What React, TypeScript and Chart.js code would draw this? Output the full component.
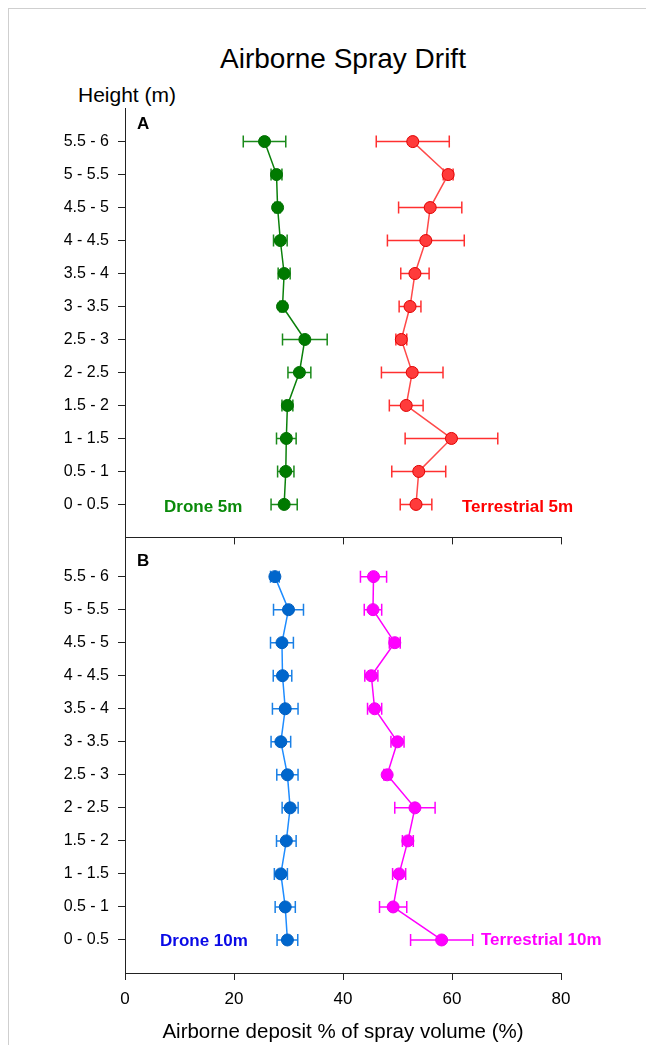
import React, { useEffect, useRef } from "react";
import { Chart, registerables } from "chart.js";

Chart.register(...registerables);

// ---------- data ----------
const heightLabels = [
  "0 - 0.5", "0.5 - 1", "1 - 1.5", "1.5 - 2", "2 - 2.5", "2.5 - 3",
  "3 - 3.5", "3.5 - 4", "4 - 4.5", "4.5 - 5", "5 - 5.5", "5.5 - 6",
];
const xTicks = [0, 20, 40, 60, 80];

const drone5 = [29.2, 29.5, 29.6, 29.8, 32.0, 33.0, 28.9, 29.2, 28.5, 28.0, 27.8, 25.6];
const drone5Err = [2.4, 1.5, 1.8, 1.0, 2.1, 4.1, 0.5, 1.1, 1.25, 0.5, 1.0, 3.9];
const terr5 = [53.4, 53.9, 59.9, 51.6, 52.7, 50.7, 52.3, 53.2, 55.2, 56.0, 59.3, 52.8];
const terr5Err = [2.9, 4.95, 8.5, 3.1, 5.65, 1.0, 2.0, 2.6, 7.05, 5.8, 0.9, 6.7];

const drone10 = [29.8, 29.4, 28.6, 29.6, 30.3, 29.8, 28.6, 29.4, 28.9, 28.8, 30.0, 27.5];
const drone10Err = [1.9, 1.85, 1.2, 1.8, 1.47, 1.95, 1.8, 2.35, 1.7, 2.1, 2.75, 0.8];
const terr10 = [58.1, 49.2, 50.3, 51.9, 53.2, 48.1, 50.0, 45.8, 45.2, 49.5, 45.5, 45.6];
const terr10Err = [5.7, 2.5, 1.2, 1.0, 3.7, 0.6, 1.2, 1.3, 1.2, 1.0, 1.6, 2.4];

const FONT = "'Liberation Sans', Arial, Helvetica, sans-serif";

const toPoints = (vals: number[]) => vals.map((v, i) => ({ x: v, y: i }));

const errorBarPlugin = {
  id: "errorBars",
  beforeDatasetsDraw(chart: any) {
    const ctx = chart.ctx;
    const xs = chart.scales.x;
    const ys = chart.scales.y;
    chart.data.datasets.forEach((ds: any, di: number) => {
      if (!chart.isDatasetVisible(di) || !ds.errors) return;
      ctx.save();
      ctx.strokeStyle = ds.errorColor || ds.borderColor;
      ctx.lineWidth = 1.5;
      ds.data.forEach((p: any, i: number) => {
        const e = ds.errors[i];
        const x1 = xs.getPixelForValue(p.x - e);
        const x2 = xs.getPixelForValue(p.x + e);
        const y = ys.getPixelForValue(p.y);
        ctx.beginPath();
        ctx.moveTo(x1, y);
        ctx.lineTo(x2, y);
        ctx.moveTo(x1, y - 6);
        ctx.lineTo(x1, y + 6);
        ctx.moveTo(x2, y - 6);
        ctx.lineTo(x2, y + 6);
        ctx.stroke();
      });
      ctx.restore();
    });
  },
};

function makeDataset(vals: number[], errs: number[], line: string, fill: string, border: string, err: string) {
  return {
    data: toPoints(vals),
    errors: errs,
    errorColor: err,
    showLine: true,
    borderColor: line,
    borderWidth: 1.5,
    pointRadius: 6,
    pointHoverRadius: 6,
    pointBackgroundColor: fill,
    pointBorderColor: border,
    pointBorderWidth: 1,
  };
}

function makeOptions(showXLabels: boolean, padTop: number, padBottom: number) {
  return {
    animation: false as const,
    responsive: false,
    maintainAspectRatio: false,
    layout: { padding: { left: 0, right: 85, top: padTop, bottom: padBottom } },
    plugins: { legend: { display: false }, tooltip: { enabled: false }, title: { display: false } },
    scales: {
      x: {
        type: "linear" as const,
        min: 0,
        max: 80,
        afterBuildTicks: (s: any) => {
          s.ticks = xTicks.map((v) => ({ value: v }));
        },
        afterFit: (s: any) => {
          s.height = showXLabels ? 40 : 7;
        },
        border: { display: true, color: "#222", width: 1 },
        grid: { display: true, drawOnChartArea: false, drawTicks: true, tickLength: 7, color: "#222", lineWidth: 1 },
        ticks: {
          display: showXLabels,
          padding: 9,
          color: "#000",
          font: { family: FONT, size: 17 },
          maxRotation: 0,
        },
      },
      y: {
        type: "linear" as const,
        min: -1,
        max: 12,
        afterBuildTicks: (s: any) => {
          s.ticks = heightLabels.map((_, i) => ({ value: i }));
        },
        afterFit: (s: any) => {
          s.width = 125;
        },
        border: { display: true, color: "#222", width: 1 },
        grid: { display: true, drawOnChartArea: false, drawTicks: true, tickLength: 7, color: "#222", lineWidth: 1 },
        ticks: {
          autoSkip: false,
          padding: 9,
          color: "#000",
          font: { family: FONT, size: 16 },
          callback: (v: any) => heightLabels[v] ?? "",
        },
      },
    },
  };
}

const abs = (l: number, t: number, extra: React.CSSProperties = {}): React.CSSProperties => ({
  position: "absolute",
  left: l,
  top: t,
  fontFamily: FONT,
  whiteSpace: "nowrap",
  ...extra,
});

export default function App() {
  const refA = useRef<HTMLCanvasElement>(null);
  const refB = useRef<HTMLCanvasElement>(null);

  useEffect(() => {
    const chartA = new Chart(refA.current!, {
      type: "scatter",
      data: {
        datasets: [
          makeDataset(drone5, drone5Err, "#0a800a", "#007a00", "#007000", "#1a8a1a"),
          makeDataset(terr5, terr5Err, "#ff4a4a", "#ff3b3b", "#e00000", "#ff3030"),
        ] as any,
      },
      options: makeOptions(false, 15, 10) as any,
      plugins: [errorBarPlugin],
    });
    const chartB = new Chart(refB.current!, {
      type: "scatter",
      data: {
        datasets: [
          makeDataset(drone10, drone10Err, "#1e8cff", "#0066cc", "#005fc0", "#1a80e6"),
          makeDataset(terr10, terr10Err, "#ff00ff", "#ff00ff", "#f000f0", "#ff00ff"),
        ] as any,
      },
      options: makeOptions(true, 14, 12) as any,
      plugins: [errorBarPlugin],
    });
    return () => {
      chartA.destroy();
      chartB.destroy();
    };
  }, []);

  const lbl = (color: string): React.CSSProperties => ({
    fontWeight: "bold",
    fontSize: 17,
    lineHeight: "20px",
    color,
  });

  return (
    <div style={{ position: "absolute", left: 0, top: 0, width: 646, height: 1045, overflow: "hidden", background: "#fff" }}>
      <div
        style={{
          position: "absolute",
          left: 8,
          top: 8,
          width: 800,
          height: 1200,
          borderLeft: "1px solid #cfcfcf",
          borderTop: "1px solid #cfcfcf",
        }}
      />
      <div style={abs(43, 43, { width: 600, textAlign: "center", fontSize: 28, lineHeight: "32px", color: "#000" })}>
        Airborne Spray Drift
      </div>
      <div style={abs(0, 83, { width: 176, textAlign: "right", fontSize: 21, lineHeight: "24px", color: "#000" })}>
        Height (m)
      </div>
      <canvas ref={refA} width={646} height={466} style={{ position: "absolute", left: 0, top: 90, width: 646, height: 466 }} />
      <canvas ref={refB} width={646} height={500} style={{ position: "absolute", left: 0, top: 525, width: 646, height: 500 }} />
      <div style={abs(137, 114, { ...lbl("#000") })}>A</div>
      <div style={abs(137, 551, { ...lbl("#000") })}>B</div>
      <div style={abs(164, 497, lbl("#0a8a0a"))}>Drone 5m</div>
      <div style={abs(462, 497, lbl("#ff0000"))}>Terrestrial 5m</div>
      <div style={abs(160, 931, lbl("#0a0ae6"))}>Drone 10m</div>
      <div style={abs(481, 930, lbl("#ff00ff"))}>Terrestrial 10m</div>
      <div style={abs(43, 1018, { width: 600, textAlign: "center", fontSize: 20.5, lineHeight: "26px", color: "#000" })}>
        Airborne deposit % of spray volume (%)
      </div>
    </div>
  );
}
